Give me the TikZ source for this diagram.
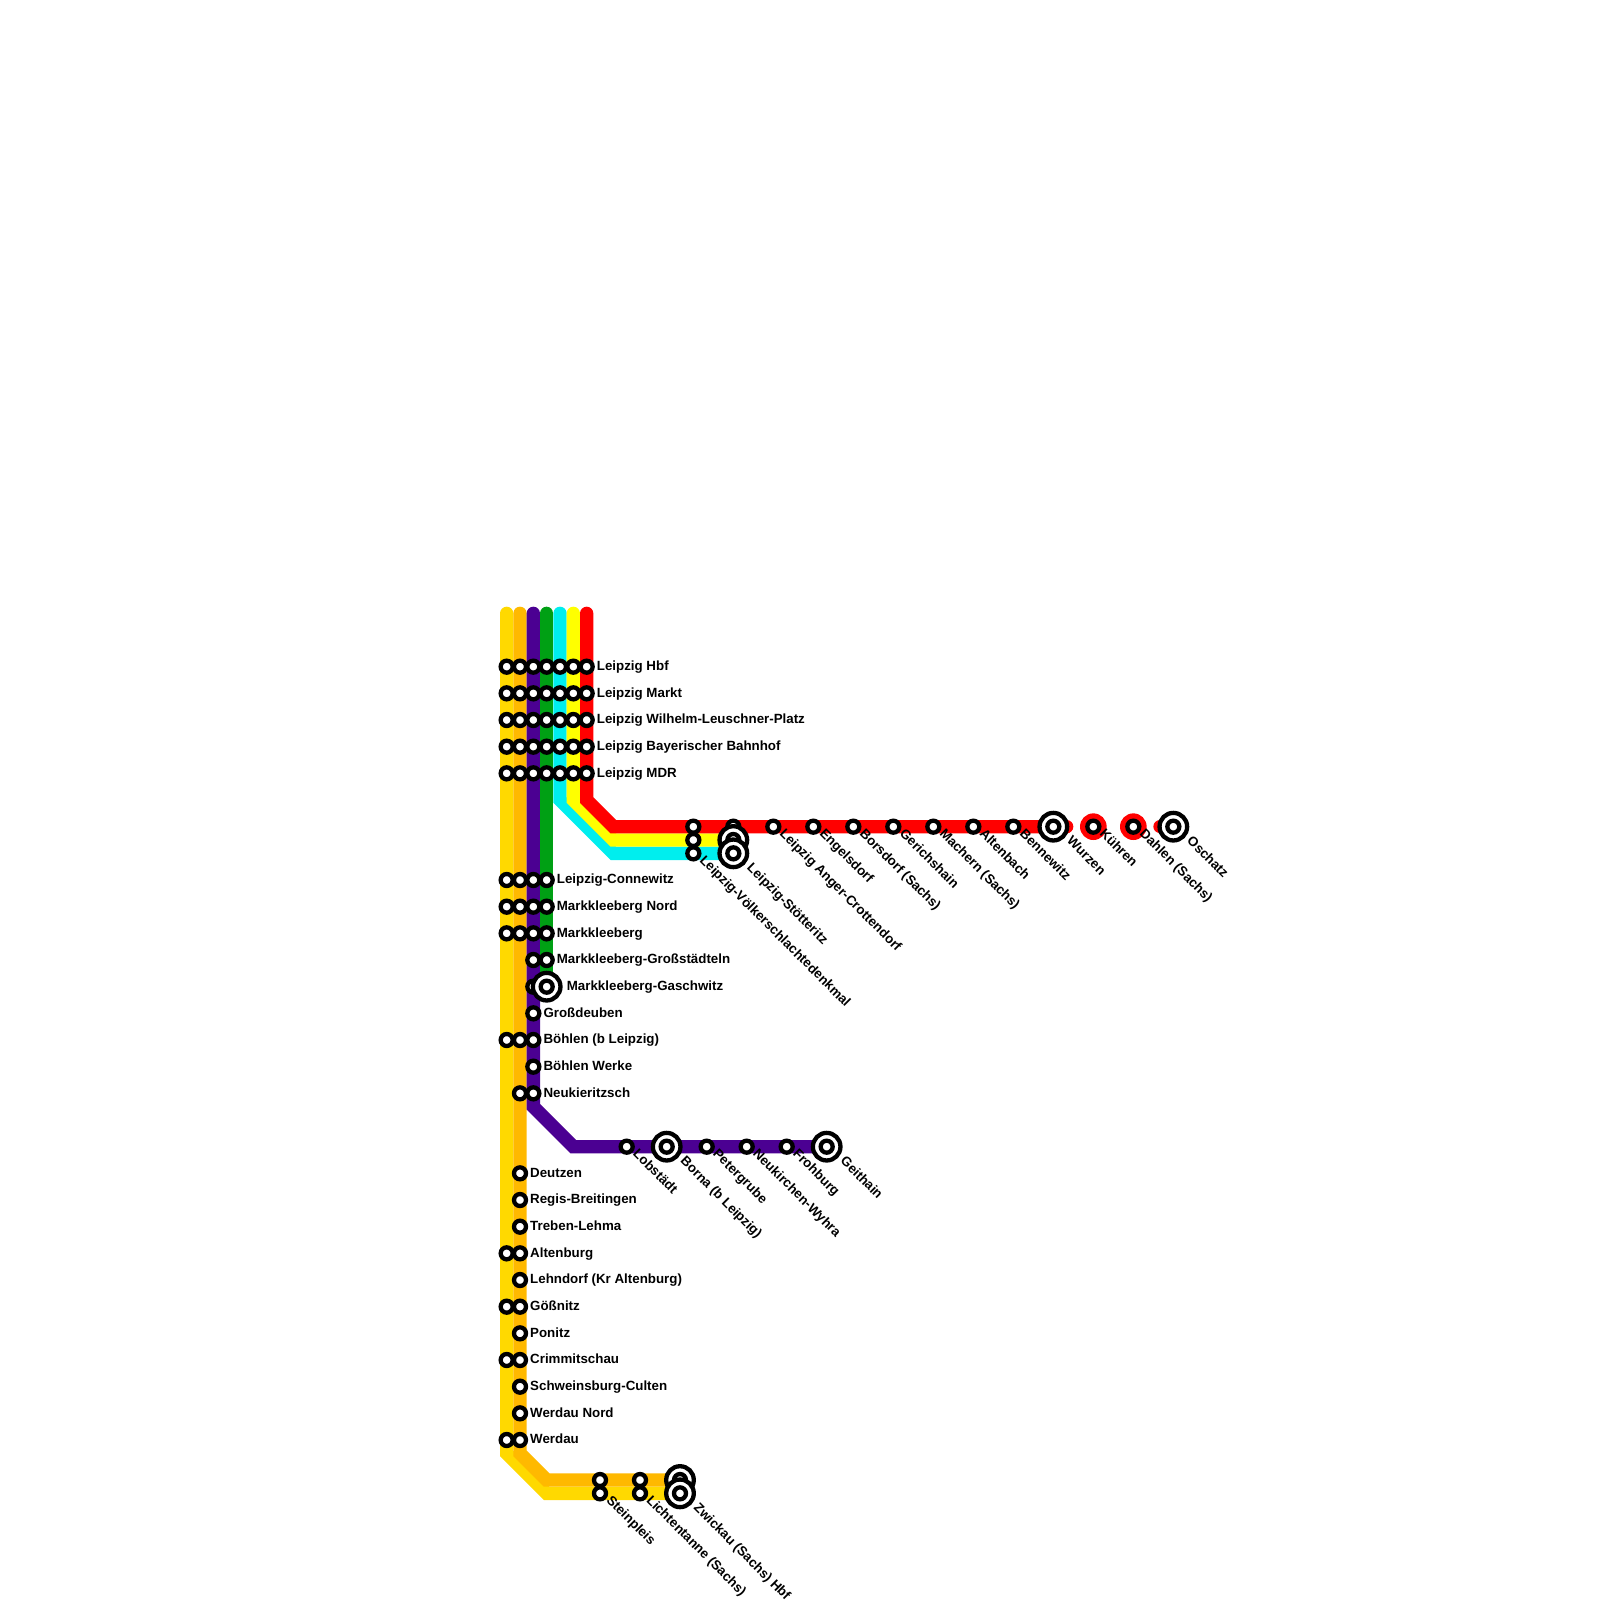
\documentclass[tikz,border=0pt]{standalone}
\usepackage{fontspec}
\setmainfont{Liberation Sans}
\definecolor{linegold}{RGB}{255,217,0}
\definecolor{lineorange}{RGB}{255,185,0}
\definecolor{linepurple}{RGB}{75,0,146}
\definecolor{linegreen}{RGB}{0,160,20}
\definecolor{linecyan}{RGB}{0,238,238}
\definecolor{lineyellow}{RGB}{255,255,0}
\definecolor{linered}{RGB}{255,0,0}
\tikzset{
	metro/.style={line width=13.333pt,line cap=round,line join=miter},
	stn/.style={circle,draw=black,fill=white,line width=4.3pt,inner sep=0pt,outer sep=0pt,minimum size=12pt},
	bigstn/.style={stn,minimum size=27.6pt,path picture={\draw[line width=4.3pt,fill=white] (path picture bounding box.center) circle (6pt);}},
	reddisk/.style={circle,fill=linered,inner sep=0pt,outer sep=0pt,minimum size=26.667pt},
	lbl/.style={anchor=base west,inner sep=0pt,yshift=-3.7pt,font=\fontsize{13.33}{15}\selectfont\bfseries},
	dlbl/.style={lbl,rotate=-45,xshift=-2.6pt,yshift=1.1pt},
}
\begin{document}
\begin{tikzpicture}[x=13.3333pt,y=-13.3333pt]
	\useasboundingbox (0,0) rectangle (120,120);
	\coordinate (goldtop) at (38,46);
	\coordinate (goldbenda) at (38,109);
	\coordinate (goldbendb) at (41,112);
	\coordinate (goldend) at (51,112);
	\coordinate (orangetop) at (39,46);
	\coordinate (orangebenda) at (39,109);
	\coordinate (orangebendb) at (41,111);
	\coordinate (orangeend) at (51,111);
	\coordinate (purpletop) at (40,46);
	\coordinate (purplebenda) at (40,83);
	\coordinate (purplebendb) at (43,86);
	\coordinate (purpleend) at (62,86);
	\coordinate (greentop) at (41,46);
	\coordinate (greenend) at (41,74);
	\coordinate (cyantop) at (42,46);
	\coordinate (cyanbenda) at (42,60);
	\coordinate (cyanbendb) at (46,64);
	\coordinate (cyanend) at (55,64);
	\coordinate (yellowtop) at (43,46);
	\coordinate (yellowbenda) at (43,60);
	\coordinate (yellowbendb) at (46,63);
	\coordinate (yellowend) at (55,63);
	\coordinate (redtop) at (44,46);
	\coordinate (redbenda) at (44,60);
	\coordinate (redbendb) at (46,62);
	\coordinate (redend) at (80,62);
	\coordinate (redstub) at (87,62);
	\coordinate (redstubend) at (88,62);
	\draw[metro,linegold] (goldtop) -- (goldbenda) -- (goldbendb) -- (goldend);
	\draw[metro,lineorange] (orangetop) -- (orangebenda) -- (orangebendb) -- (orangeend);
	\draw[metro,linepurple] (purpletop) -- (purplebenda) -- (purplebendb) -- (purpleend);
	\draw[metro,linegreen] (greentop) -- (greenend);
	\draw[metro,linecyan] (cyantop) -- (cyanbenda) -- (cyanbendb) -- (cyanend);
	\draw[metro,lineyellow] (yellowtop) -- (yellowbenda) -- (yellowbendb) -- (yellowend);
	\draw[metro,linered] (redtop) -- (redbenda) -- (redbendb) -- (redend);
	\draw[metro,linered] (redstub) -- (redstubend);
	\node[reddisk] (kuehrendisk) at (82,62) {};
	\node[reddisk] (dahlendisk) at (85,62) {};
	% Leipzig tunnel
	\node[stn] (hbfa) at (38,50) {};
	\node[stn] (hbfb) at (39,50) {};
	\node[stn] (hbfc) at (40,50) {};
	\node[stn] (hbfd) at (41,50) {};
	\node[stn] (hbfe) at (42,50) {};
	\node[stn] (hbff) at (43,50) {};
	\node[stn] (hbfg) at (44,50) {};
	\node[stn] (markta) at (38,52) {};
	\node[stn] (marktb) at (39,52) {};
	\node[stn] (marktc) at (40,52) {};
	\node[stn] (marktd) at (41,52) {};
	\node[stn] (markte) at (42,52) {};
	\node[stn] (marktf) at (43,52) {};
	\node[stn] (marktg) at (44,52) {};
	\node[stn] (wlpa) at (38,54) {};
	\node[stn] (wlpb) at (39,54) {};
	\node[stn] (wlpc) at (40,54) {};
	\node[stn] (wlpd) at (41,54) {};
	\node[stn] (wlpe) at (42,54) {};
	\node[stn] (wlpf) at (43,54) {};
	\node[stn] (wlpg) at (44,54) {};
	\node[stn] (baya) at (38,56) {};
	\node[stn] (bayb) at (39,56) {};
	\node[stn] (bayc) at (40,56) {};
	\node[stn] (bayd) at (41,56) {};
	\node[stn] (baye) at (42,56) {};
	\node[stn] (bayf) at (43,56) {};
	\node[stn] (bayg) at (44,56) {};
	\node[stn] (mdra) at (38,58) {};
	\node[stn] (mdrb) at (39,58) {};
	\node[stn] (mdrc) at (40,58) {};
	\node[stn] (mdrd) at (41,58) {};
	\node[stn] (mdre) at (42,58) {};
	\node[stn] (mdrf) at (43,58) {};
	\node[stn] (mdrg) at (44,58) {};
	\node[lbl] (hbflbl) at (44.75,50) {Leipzig Hbf};
	\node[lbl] (marktlbl) at (44.75,52) {Leipzig Markt};
	\node[lbl] (wlplbl) at (44.75,54) {Leipzig Wilhelm-Leuschner-Platz};
	\node[lbl] (baylbl) at (44.75,56) {Leipzig Bayerischer Bahnhof};
	\node[lbl] (mdrlbl) at (44.75,58) {Leipzig MDR};
	% south of the tunnel
	\node[stn] (conna) at (38,66) {};
	\node[stn] (connb) at (39,66) {};
	\node[stn] (connc) at (40,66) {};
	\node[stn] (connd) at (41,66) {};
	\node[stn] (norda) at (38,68) {};
	\node[stn] (nordb) at (39,68) {};
	\node[stn] (nordc) at (40,68) {};
	\node[stn] (nordd) at (41,68) {};
	\node[stn] (mkba) at (38,70) {};
	\node[stn] (mkbb) at (39,70) {};
	\node[stn] (mkbc) at (40,70) {};
	\node[stn] (mkbd) at (41,70) {};
	\node[stn] (grossc) at (40,72) {};
	\node[stn] (grossd) at (41,72) {};
	\node[stn] (gaschc) at (40,74) {};
	\node[bigstn] (gaschd) at (41,74) {};
	\node[stn] (deubenc) at (40,76) {};
	\node[stn] (boehlena) at (38,78) {};
	\node[stn] (boehlenb) at (39,78) {};
	\node[stn] (boehlenc) at (40,78) {};
	\node[stn] (werkec) at (40,80) {};
	\node[stn] (neukb) at (39,82) {};
	\node[stn] (neukc) at (40,82) {};
	\node[lbl] (connlbl) at (41.75,66) {Leipzig-Connewitz};
	\node[lbl] (nordlbl) at (41.75,68) {Markkleeberg Nord};
	\node[lbl] (mkblbl) at (41.75,70) {Markkleeberg};
	\node[lbl] (grosslbl) at (41.75,72) {Markkleeberg-Großstädteln};
	\node[lbl] (gaschlbl) at (42.5,74) {Markkleeberg-Gaschwitz};
	\node[lbl] (deubenlbl) at (40.75,76) {Großdeuben};
	\node[lbl] (boehlenlbl) at (40.75,78) {Böhlen (b Leipzig)};
	\node[lbl] (werkelbl) at (40.75,80) {Böhlen Werke};
	\node[lbl] (neuklbl) at (40.75,82) {Neukieritzsch};
	% Geithain branch
	\node[stn] (lobstaedt) at (47,86) {};
	\node[bigstn] (borna) at (50,86) {};
	\node[stn] (petergrube) at (53,86) {};
	\node[stn] (wyhra) at (56,86) {};
	\node[stn] (frohburg) at (59,86) {};
	\node[bigstn] (geithain) at (62,86) {};
	\node[dlbl] (lobstaedtlbl) at (47.5,86.5) {Lobstädt};
	\node[dlbl] (bornalbl) at (51.05,87.05) {Borna (b Leipzig)};
	\node[dlbl] (petergrubelbl) at (53.5,86.5) {Petergrube};
	\node[dlbl] (wyhralbl) at (56.5,86.5) {Neukirchen-Wyhra};
	\node[dlbl] (frohburglbl) at (59.5,86.5) {Frohburg};
	\node[dlbl] (geithainlbl) at (63.05,87.05) {Geithain};
	% Zwickau lines
	\node[stn] (deutzenb) at (39,88) {};
	\node[stn] (regisb) at (39,90) {};
	\node[stn] (trebenb) at (39,92) {};
	\node[stn] (altenburga) at (38,94) {};
	\node[stn] (altenburgb) at (39,94) {};
	\node[stn] (lehndorfb) at (39,96) {};
	\node[stn] (goessnitza) at (38,98) {};
	\node[stn] (goessnitzb) at (39,98) {};
	\node[stn] (ponitzb) at (39,100) {};
	\node[stn] (crimma) at (38,102) {};
	\node[stn] (crimmb) at (39,102) {};
	\node[stn] (culenb) at (39,104) {};
	\node[stn] (wnordb) at (39,106) {};
	\node[stn] (werdaua) at (38,108) {};
	\node[stn] (werdaub) at (39,108) {};
	\node[lbl] (deutzenlbl) at (39.75,88) {Deutzen};
	\node[lbl] (regislbl) at (39.75,90) {Regis-Breitingen};
	\node[lbl] (trebenlbl) at (39.75,92) {Treben-Lehma};
	\node[lbl] (altenburglbl) at (39.75,94) {Altenburg};
	\node[lbl] (lehndorflbl) at (39.75,96) {Lehndorf (Kr Altenburg)};
	\node[lbl] (goessnitzlbl) at (39.75,98) {Gößnitz};
	\node[lbl] (ponitzlbl) at (39.75,100) {Ponitz};
	\node[lbl] (crimmlbl) at (39.75,102) {Crimmitschau};
	\node[lbl] (culenlbl) at (39.75,104) {Schweinsburg-Culten};
	\node[lbl] (wnordlbl) at (39.75,106) {Werdau Nord};
	\node[lbl] (werdaulbl) at (39.75,108) {Werdau};
	\node[stn] (steinb) at (45,111) {};
	\node[stn] (steina) at (45,112) {};
	\node[stn] (lichtb) at (48,111) {};
	\node[stn] (lichta) at (48,112) {};
	\node[bigstn] (zwickaub) at (51,111) {};
	\node[bigstn] (zwickaua) at (51,112) {};
	\node[dlbl] (steinlbl) at (45.5,112.5) {Steinpleis};
	\node[dlbl] (lichtlbl) at (48.5,112.5) {Lichtentanne (Sachs)};
	\node[dlbl] (zwickaulbl) at (52.05,113.05) {Zwickau (Sachs) Hbf};
	% Oschatz line
	\node[stn] (voelkg) at (52,62) {};
	\node[stn] (voelkf) at (52,63) {};
	\node[stn] (voelke) at (52,64) {};
	\node[stn] (stoetg) at (55,62) {};
	\node[bigstn] (stoetf) at (55,63) {};
	\node[bigstn] (stoete) at (55,64) {};
	\node[stn] (anger) at (58,62) {};
	\node[stn] (engelsdorf) at (61,62) {};
	\node[stn] (borsdorf) at (64,62) {};
	\node[stn] (gerichshain) at (67,62) {};
	\node[stn] (machern) at (70,62) {};
	\node[stn] (altenbach) at (73,62) {};
	\node[stn] (bennewitz) at (76,62) {};
	\node[bigstn] (wurzen) at (79,62) {};
	\node[stn] (kuehren) at (82,62) {};
	\node[stn] (dahlen) at (85,62) {};
	\node[bigstn] (oschatz) at (88,62) {};
	\node[dlbl] (voelklbl) at (52.5,64.5) {Leipzig-Völkerschlachtedenkmal};
	\node[dlbl] (stoetlbl) at (56.05,65.05) {Leipzig-Stötteritz};
	\node[dlbl] (angerlbl) at (58.5,62.5) {Leipzig Anger-Crottendorf};
	\node[dlbl] (engelsdorflbl) at (61.5,62.5) {Engelsdorf};
	\node[dlbl] (borsdorflbl) at (64.5,62.5) {Borsdorf (Sachs)};
	\node[dlbl] (gerichshainlbl) at (67.5,62.5) {Gerichshain};
	\node[dlbl] (machernlbl) at (70.5,62.5) {Machern (Sachs)};
	\node[dlbl] (altenbachlbl) at (73.5,62.5) {Altenbach};
	\node[dlbl] (bennewitzlbl) at (76.5,62.5) {Bennewitz};
	\node[dlbl] (wurzenlbl) at (80.05,63.05) {Wurzen};
	\node[dlbl] (kuehrenlbl) at (82.5,62.5) {Kühren};
	\node[dlbl] (dahlenlbl) at (85.5,62.5) {Dahlen (Sachs)};
	\node[dlbl] (oschatzlbl) at (89.05,63.05) {Oschatz};
\end{tikzpicture}
\end{document}
